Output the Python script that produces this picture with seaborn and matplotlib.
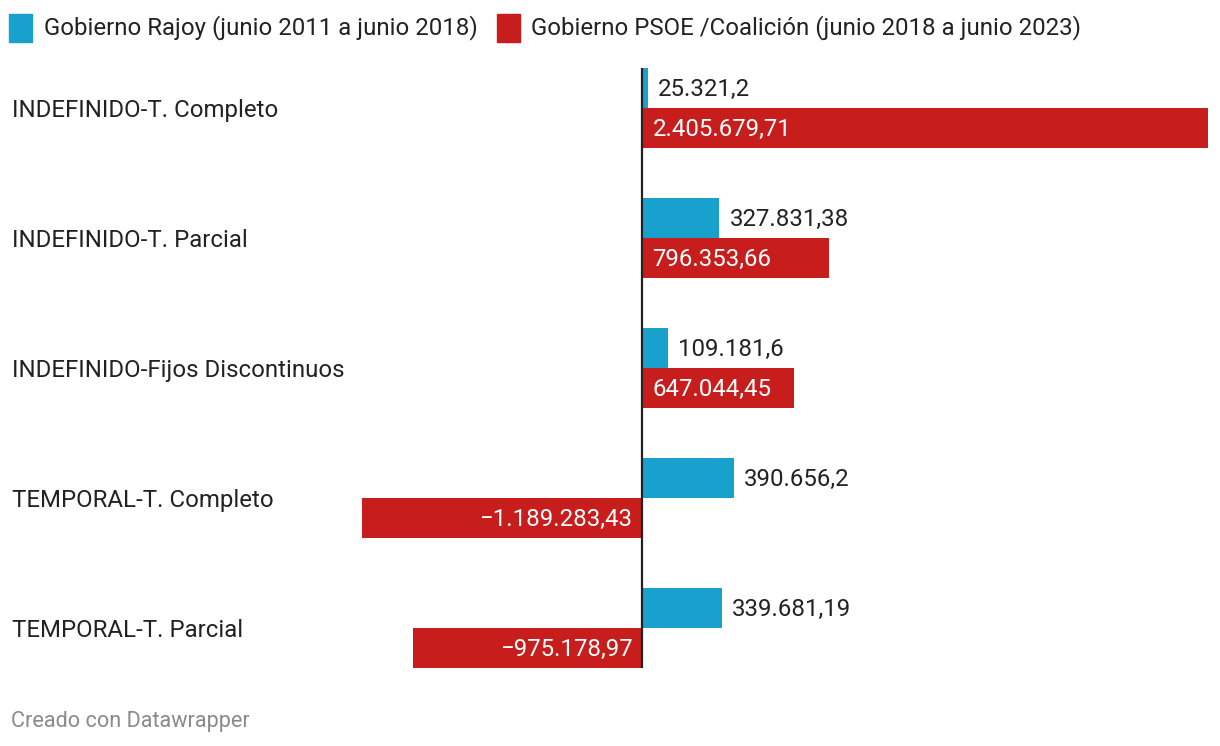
import matplotlib
matplotlib.use("Agg")
import matplotlib.pyplot as plt
import seaborn as sns
import pandas as pd
from matplotlib.patches import Rectangle
from matplotlib.transforms import offset_copy

categories = ["INDEFINIDO-T. Completo", "INDEFINIDO-T. Parcial", "INDEFINIDO-Fijos Discontinuos",
              "TEMPORAL-T. Completo", "TEMPORAL-T. Parcial"]
series = ["Gobierno Rajoy (junio 2011 a junio 2018)",
          "Gobierno PSOE /Coalición (junio 2018 a junio 2023)"]
rajoy = [25321.2, 327831.38, 109181.6, 390656.2, 339681.19]
psoe = [2405679.71, 796353.66, 647044.45, -1189283.43, -975178.97]
rajoy_lbl = ["25.321,2", "327.831,38", "109.181,6", "390.656,2", "339.681,19"]
psoe_lbl = ["2.405.679,71", "796.353,66", "647.044,45", "\u22121.189.283,43", "\u2212975.178,97"]

blue = "#18a1cd"
red = "#c71e1d"
dark = "#222222"

sns.set_style("white")
plt.rcParams["font.family"] = ["Roboto", "DejaVu Sans"]

df = pd.DataFrame({
    "cat": categories * 2,
    "serie": [series[0]] * 5 + [series[1]] * 5,
    "val": rajoy + psoe,
})

W, H = 1220, 746
fig = plt.figure(figsize=(W / 100, H / 100), dpi=100)
ax = fig.add_axes([12 / W, 1 - 668 / H, (1208 - 12) / W, 600 / H])

sns.barplot(data=df, y="cat", x="val", hue="serie", orient="h",
            palette=[blue, red], width=80 / 130, ax=ax, legend=False,
            saturation=1, linewidth=0, errorbar=None)

vmax = max(psoe)
ax.set_xlim(-vmax * 630 / 566, vmax)
ax.set_ylim(4 + 40 / 130, -40 / 130)
ax.axvline(0, color="#222222", lw=1.6, zorder=5)
for s in ax.spines.values():
    s.set_visible(False)
ax.set_xticks([])
ax.set_yticks([])
ax.set_xlabel("")
ax.set_ylabel("")

fs = 17.3
for i, c in enumerate(categories):
    tr = offset_copy(ax.get_yaxis_transform(), fig=fig, x=0, y=-1.5, units="points")
    ax.text(0, i, c, transform=tr, ha="left", va="center",
            fontsize=fs, color=dark)

bw = 40 / 130
for i in range(5):
    yb = i - bw / 2
    yr = i + bw / 2
    tr = offset_copy(ax.transData, fig=fig, x=7.5, y=-1, units="points")
    ax.text(rajoy[i], yb, rajoy_lbl[i], transform=tr, ha="left", va="center",
            fontsize=fs, color=dark)
    if psoe[i] >= 0:
        tr2 = offset_copy(ax.transData, fig=fig, x=7.5, y=-1, units="points")
        ax.text(0, yr, psoe_lbl[i], transform=tr2, ha="left", va="center",
                fontsize=fs, color="white", zorder=6)
    else:
        tr2 = offset_copy(ax.transData, fig=fig, x=-7, y=-1, units="points")
        ax.text(0, yr, psoe_lbl[i], transform=tr2, ha="right", va="center",
                fontsize=fs, color="white", zorder=6)

# legend
fig.patches.append(Rectangle((9 / W, 1 - 42 / H), 23 / W, 28 / H, color=blue,
                             transform=fig.transFigure, figure=fig))
fig.text(44 / W, 1 - 28 / H, series[0], fontsize=fs, color=dark, va="center", ha="left")
fig.patches.append(Rectangle((497 / W, 1 - 42 / H), 23 / W, 28 / H, color=red,
                             transform=fig.transFigure, figure=fig))
fig.text(531 / W, 1 - 28 / H, series[1], fontsize=fs, color=dark, va="center", ha="left")

fig.text(11 / W, 1 - 721 / H, "Creado con Datawrapper", fontsize=15.6, color="#8a8a8a",
         va="center", ha="left")

fig.savefig("out.png", dpi=100)
